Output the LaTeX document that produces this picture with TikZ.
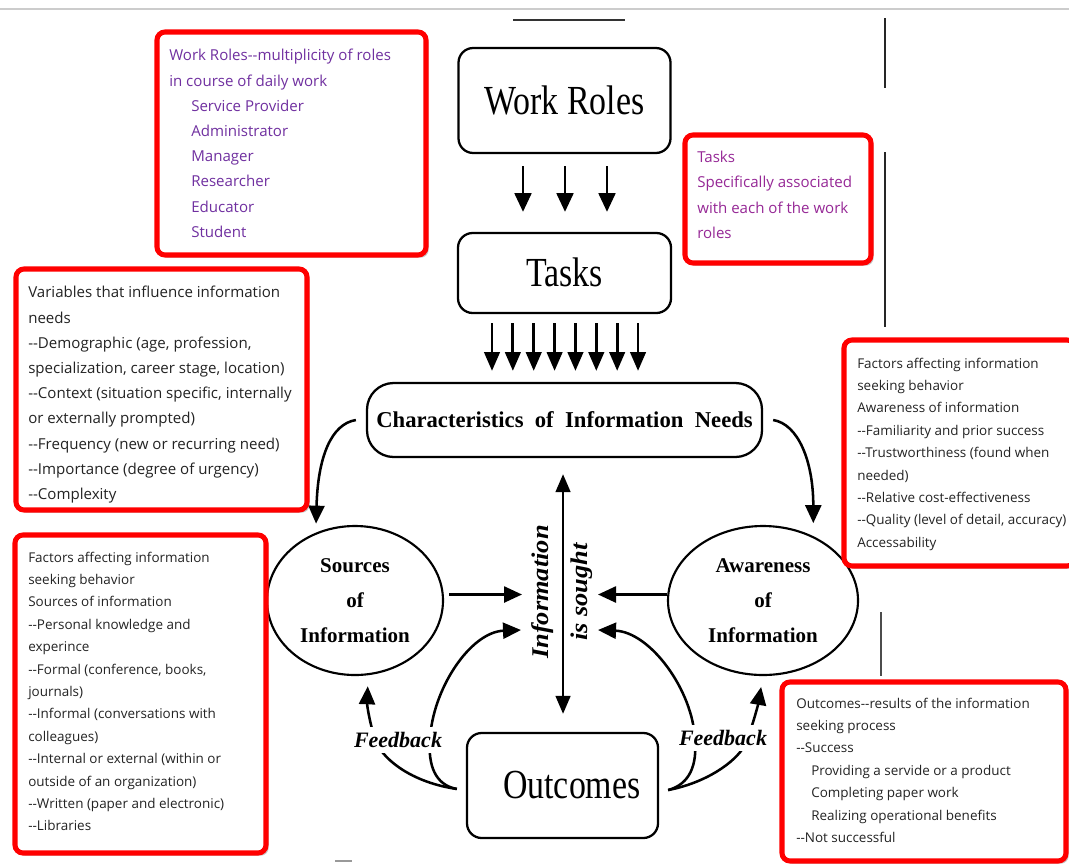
\documentclass[tikz,border=0pt]{standalone}
\usepackage{fontspec}
\setmainfont{Liberation Serif}
\newfontfamily\uifont{Open Sans}
\usetikzlibrary{arrows.meta,shapes.geometric,shadows}
\definecolor{wrpurple}{RGB}{112,48,160}
\definecolor{tkpurple}{RGB}{150,40,150}
\definecolor{ctext}{RGB}{35,35,35}
\newcommand\dd{-\kern0pt-}
\begin{document}
\begin{tikzpicture}[x=0.75pt,y=-0.75pt,
  rbox/.style={draw, line width=1.7pt, rounded corners=11pt, inner sep=0pt},
  bigtxt/.style={font=\fontsize{31}{31}\selectfont},
  arr/.style={line width=1.9pt, -{Triangle[width=12pt,length=13.5pt]}},
  callbox/.style={draw=red, line width=3.8pt, rounded corners=6pt, fill=white, outer sep=0pt,
     anchor=north west, drop shadow={opacity=0.45, shadow xshift=2pt, shadow yshift=-2pt}},
  calltxtA/.style={font=\uifont\fontsize{11.3}{18.9}\selectfont, align=left, anchor=north west, inner sep=0pt},
  calltxtB/.style={font=\uifont\fontsize{10.1}{16.8}\selectfont, align=left, anchor=north west, inner sep=0pt, text=ctext},
  ell/.style={draw, ellipse, line width=1.6pt, inner sep=0pt, align=center, font=\bfseries\fontsize{15.75}{26.25}\selectfont},
  fb/.style={fill=white, inner xsep=1pt, inner ysep=4pt, font=\bfseries\itshape\fontsize{16.5}{16.5}\selectfont},
  rot/.style={font=\bfseries\itshape\fontsize{18}{18}\selectfont, rotate=90, inner sep=0pt},
]
\useasboundingbox (0,0) rectangle (1069,864);
\fill[white] (0,0) rectangle (1069,864);
% scan remnants
\draw[black!20, line width=0.8pt] (0,9) -- (1069,9);
\draw[black!80, line width=2.2pt] (513,20) -- (625,20);
\draw[black!85, line width=2.2pt] (885,18) -- (885,88);
\draw[black!85, line width=2pt] (885,152) -- (885,327);
\draw[black!70, line width=1.2pt] (881,612) -- (881,676);
\draw[black!40, line width=1pt] (335,861) -- (352,861);

% main boxes
\node[rbox, bigtxt, minimum width=159pt, minimum height=78.75pt] (wr) at (564.5,100.5) {\scalebox{0.82}[1]{Work Roles}};
\node[rbox, bigtxt, minimum width=159.75pt, minimum height=60pt] (tk) at (564.5,273) {\raisebox{2pt}{\scalebox{0.82}[1]{Tasks}}};
\node[rbox, rounded corners=20pt, minimum width=296.25pt, minimum height=55.5pt, font=\bfseries\fontsize{17}{17}\selectfont] (cb) at (564.5,420) {Characteristics \ of \ Information \ Needs};
\node[rbox, bigtxt, minimum width=143.25pt, minimum height=78.75pt] (oc) at (562.5,785.5) {\hspace*{14pt}\scalebox{0.82}[1]{Outcomes}};
\node[ell, minimum width=132pt, minimum height=111.75pt] (src) at (355,600.5) {Sources\\of\\Information};
\node[ell, minimum width=142.5pt, minimum height=111.75pt] (aw) at (763,600.5) {Awareness\\of\\Information};

% arrows work roles -> tasks
\foreach \dx in {-41.5,0.5,42.5}
  \draw[arr, line width=2.1pt, -{Triangle[width=12.5pt,length=14pt]}, shorten <=9pt, shorten >=15pt]
    ([xshift=\dx*0.75pt]wr.south) -- ([xshift=\dx*0.75pt]tk.north);
% arrows tasks -> characteristics
\foreach \i in {0,...,7}{
  \pgfmathsetmacro\dx{(-72.5+20.86*\i)*0.75}
  \draw[arr, line width=2.1pt, -{Triangle[width=11.5pt,length=14pt]}, shorten <=6.75pt, shorten >=8.25pt]
    ([xshift=\dx pt]tk.south) -- ([xshift=\dx pt]cb.north);
}
% characteristics -> sources / awareness
\draw[arr, shorten >=6.75pt] ([xshift=-7.5pt]cb.west) .. controls +(-25,4) and +(2,-75) .. (src.120);
\draw[arr, shorten >=9.75pt] ([xshift=7.5pt]cb.east) .. controls +(25,4) and +(0,-75) .. (aw.52);

% information is sought
\node[rot] (inf) at (543,592) {\scalebox{1.1}[1]{Information}};
\node[rot] (sought) at (582,592) {\scalebox{1.1}[1]{is sought}};
\draw[line width=1.9pt, {Triangle[width=11pt,length=13.5pt]}-{Triangle[width=11pt,length=13.5pt]}, shorten <=12pt, shorten >=13.5pt]
  ([xshift=-1.1pt]cb.south) -- ([xshift=0.4pt]oc.north);

\coordinate (inL1) at (522,594.5);
\coordinate (inL2) at (521,630);
\coordinate (inR1) at (598,594.5);
\coordinate (inR2) at (598,630);
\draw[arr] ([shift={(3.75pt,4.5pt)}]src.east) -- (inL1);
\draw[arr] ([yshift=4.5pt]aw.west) -- (inR1);

% feedback loops
\coordinate (fbL) at ([shift={(-6.75pt,-2.6pt)}]oc.west);
\coordinate (fbR) at ([shift={(6.75pt,-3.4pt)}]oc.east);
\draw[arr, shorten >=8.3pt] (fbL) .. controls (415,783) and (385,762) .. (376,742) .. controls (370,725) and (367,705) .. (src.280);
\draw[arr] (fbL) .. controls (435,785) and (428,765) .. (430,740) .. controls (432,690) and (470,632) .. (inL2);
\draw[arr] (fbR) .. controls (690,784) and (697,765) .. (695,740) .. controls (693,690) and (650,632) .. (inR2);
\draw[arr, shorten >=8.3pt] (fbR) .. controls (705,783) and (735,763) .. (745,745) .. controls (752,728) and (758,705) .. (aw.south);
\node[fb] (fbl) at (398,740) {Feedback};
\node[fb] (fbr) at (723,738) {Feedback};

% callouts
\node[callbox, minimum width=201.75pt, minimum height=167.25pt] (c1b) at (157,32) {};
\node[calltxtA, text=wrpurple] (c1) at (169,49) {Work Roles\dd multiplicity of roles\\in course of daily work\\
\hspace*{16.5pt}Service Provider\\\hspace*{16.5pt}Administrator\\\hspace*{16.5pt}Manager\\
\hspace*{16.5pt}Researcher\\\hspace*{16.5pt}Educator\\\hspace*{16.5pt}Student};

\node[callbox, minimum width=139.5pt, minimum height=96pt] (c2b) at (685,135) {};
\node[calltxtA, text=tkpurple] (c2) at (697,151) {Tasks\\Specifically associated\\with each of the work\\roles};

\node[callbox, minimum width=218.25pt, minimum height=180.75pt] (c3b) at (16,269) {};
\node[calltxtA, text=ctext] (c3) at (28,286) {Variables that influence information\\needs\\
\dd Demographic (age, profession,\\specialization, career stage, location)\\
\dd Context (situation specific, internally\\or externally prompted)\\
\dd Frequency (new or recurring need)\\\dd Importance (degree of urgency)\\\dd Complexity};

\node[callbox, minimum width=173.25pt, minimum height=169.5pt] (c4b) at (844,340) {};
\node[calltxtB] (c4) at (857,357.6) {Factors affecting information\\seeking behavior\\Awareness of information\\
\dd Familiarity and prior success\\\dd Trustworthiness (found when\\needed)\\
\dd Relative cost-effectiveness\\\dd Quality (level of detail, accuracy)\\Accessability};

\node[callbox, minimum width=188.25pt, minimum height=238.5pt] (c5b) at (15,535) {};
\node[calltxtB] (c5) at (28,551.6) {Factors affecting information\\seeking behavior\\Sources of information\\
\dd Personal knowledge and\\experince\\\dd Formal (conference, books,\\journals)\\
\dd Informal (conversations with\\colleagues)\\\dd Internal or external (within or\\
outside of an organization)\\\dd Written (paper and electronic)\\\dd Libraries};

\node[callbox, minimum width=213pt, minimum height=134.25pt] (c6b) at (782,682) {};
\node[calltxtB] (c6) at (796,697.6) {Outcomes\dd results of the information\\seeking process\\\dd Success\\
\hspace*{11.25pt}Providing a servide or a product\\\hspace*{11.25pt}Completing paper work\\
\hspace*{11.25pt}Realizing operational benefits\\\dd Not successful};
\end{tikzpicture}
\end{document}
